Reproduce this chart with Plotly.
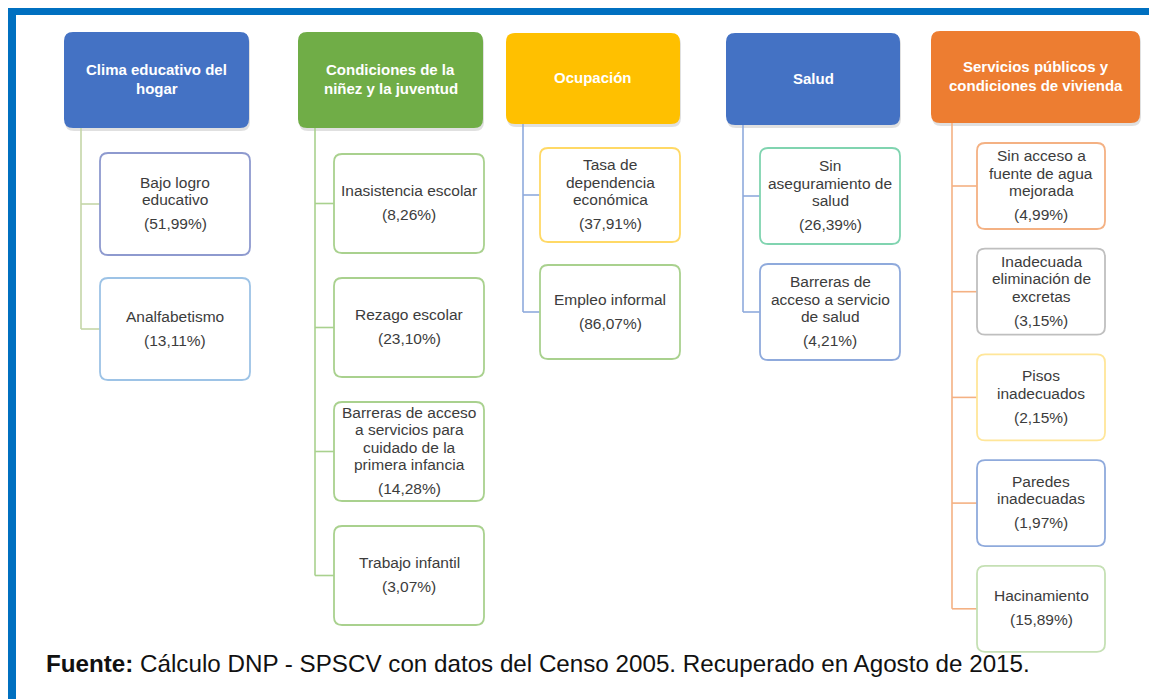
import plotly.graph_objects as go

# ---------------- data ----------------
dimensiones = [
    "Clima educativo del\nhogar",
    "Condiciones de la\nniñez y la juventud",
    "Ocupación",
    "Salud",
    "Servicios públicos y\ncondiciones de vivienda",
]
clima_ind = ["Bajo logro\neducativo", "Analfabetismo"]
clima_val = [51.99, 13.11]
ninez_ind = ["Inasistencia escolar", "Rezago escolar",
             "Barreras de acceso\na servicios para\ncuidado de la\nprimera infancia",
             "Trabajo infantil"]
ninez_val = [8.26, 23.10, 14.28, 3.07]
ocup_ind = ["Tasa de\ndependencia\neconómica", "Empleo informal"]
ocup_val = [37.91, 86.07]
salud_ind = ["Sin\naseguramiento de\nsalud", "Barreras de\nacceso a servicio\nde salud"]
salud_val = [26.39, 4.21]
serv_ind = ["Sin acceso a\nfuente de agua\nmejorada", "Inadecuada\neliminación de\nexcretas",
            "Pisos\ninadecuados", "Paredes\ninadecuadas", "Hacinamiento"]
serv_val = [4.99, 3.15, 2.15, 1.97, 15.89]
fuente = "<b>Fuente:</b> Cálculo DNP - SPSCV con datos del Censo 2005. Recuperado en Agosto de 2015."

indicadores = [clima_ind, ninez_ind, ocup_ind, salud_ind, serv_ind]
valores = [clima_val, ninez_val, ocup_val, salud_val, serv_val]

# ---------------- layout / style ----------------
W, H = 1157, 699
PAGE_MARGIN = 8  # default body margin of the html page
FONT = "Liberation Sans, Arial, sans-serif"
header_fill = ["#4472C4", "#70AD47", "#FFC000", "#4472C4", "#ED7D31"]
header_box = [(64, 32, 249, 128), (298, 32, 483, 128), (506, 33, 680, 124),
              (726, 33, 900, 125), (931, 31, 1140, 123)]
child_x = [(100, 250), (334, 484), (540, 680), (760, 900), (977, 1105)]
conn_x = [81, 315, 523, 743, 952]
child_top = [153, 154, 148, 148, 143]
child_step = [125, 124, 117, 116, 105.7]
child_h = [102, 99, 94, 96, 86]
conn_color = ["#C5D6A8", "#A9D18E", "#8FAADC", "#8FAADC", "#F4B183"]
child_border = [
    ["#8E9ACF", "#9DC3E6"],
    ["#A9D18E", "#A9D18E", "#A9D18E", "#A9D18E"],
    ["#FFD966", "#A9D18E"],
    ["#80D4B0", "#8FAADC"],
    ["#F4B183", "#BFBFBF", "#FFE699", "#8FAADC", "#C5E0B4"],
]
TEXT = "#3C3C3C"


def rrect(x0, y0, x1, y1, r):
    return (f"M{x0 + r},{y0} L{x1 - r},{y0} Q{x1},{y0} {x1},{y0 + r} "
            f"L{x1},{y1 - r} Q{x1},{y1} {x1 - r},{y1} L{x0 + r},{y1} "
            f"Q{x0},{y1} {x0},{y1 - r} L{x0},{y0 + r} Q{x0},{y0} {x0 + r},{y0} Z")


def fmt(v):
    return "(" + f"{v:.2f}".replace(".", ",") + "%)"


shapes = []
annotations = []

# blue frame
shapes.append(dict(type="rect", xref="x", yref="y", x0=8, x1=W + 5, y0=7, y1=15,
                   fillcolor="#0070C0", line=dict(width=0), layer="below"))
shapes.append(dict(type="rect", xref="x", yref="y", x0=8, x1=16, y0=7, y1=H + 5,
                   fillcolor="#0070C0", line=dict(width=0), layer="below"))

for i, dim in enumerate(dimensiones):
    x0, y0, x1, y1 = header_box[i]
    # shadow
    shapes.append(dict(type="path", xref="x", yref="y", path=rrect(x0 + 1, y0 + 2, x1 + 1, y1 + 3, 9),
                       fillcolor="rgba(0,0,0,0.12)", line=dict(width=0), layer="below"))
    shapes.append(dict(type="path", xref="x", yref="y", path=rrect(x0, y0, x1, y1, 9),
                       fillcolor=header_fill[i], line=dict(width=0)))
    lines = dim.split("\n")
    cy = (y0 + y1) / 2 - 1
    cx = (x0 + x1) / 2
    for k, ln in enumerate(lines):
        yy = cy + (k - (len(lines) - 1) / 2) * 19.5
        annotations.append(dict(x=cx, y=yy, xref="x", yref="y", text=f"<b>{ln}</b>",
                                showarrow=False, xanchor="center", yanchor="middle",
                                font=dict(family=FONT, size=15, color="white")))

    cxa, cxb = child_x[i]
    n = len(indicadores[i])
    centers = []
    for j in range(n):
        by0 = child_top[i] + j * child_step[i]
        by1 = by0 + child_h[i]
        bc = (by0 + by1) / 2
        centers.append(bc)
        shapes.append(dict(type="path", xref="x", yref="y", path=rrect(cxa, by0, cxb, by1, 8),
                           fillcolor="white", line=dict(color=child_border[i][j], width=1.8)))
        lab = indicadores[i][j].split("\n")
        m = len(lab)
        total = (m - 1) * 17.5 + 24
        first = bc - total / 2 - 1
        for k, ln in enumerate(lab):
            annotations.append(dict(x=(cxa + cxb) / 2, y=first + k * 17.5, xref="x", yref="y",
                                    text=ln, showarrow=False, xanchor="center", yanchor="middle",
                                    font=dict(family=FONT, size=15.5, color=TEXT)))
        annotations.append(dict(x=(cxa + cxb) / 2, y=first + (m - 1) * 17.5 + 24, xref="x", yref="y",
                                text=fmt(valores[i][j]), showarrow=False, xanchor="center",
                                yanchor="middle", font=dict(family=FONT, size=15.5, color=TEXT)))
        # branch
        shapes.append(dict(type="line", xref="x", yref="y", x0=conn_x[i], x1=cxa, y0=bc, y1=bc,
                           line=dict(color=conn_color[i], width=1.6), layer="below"))
    # trunk
    shapes.append(dict(type="line", xref="x", yref="y", x0=conn_x[i], x1=conn_x[i],
                       y0=header_box[i][3], y1=centers[-1],
                       line=dict(color=conn_color[i], width=1.6), layer="below"))

annotations.append(dict(x=44, y=663, xref="x", yref="y", text=fuente, showarrow=False,
                        xanchor="left", yanchor="middle",
                        font=dict(family=FONT, size=24.2, color="#111111")))

fig = go.Figure()
fig.update_layout(
    width=W - PAGE_MARGIN, height=H - PAGE_MARGIN,
    margin=dict(l=0, r=0, t=0, b=0),
    paper_bgcolor="white", plot_bgcolor="white",
    xaxis=dict(range=[PAGE_MARGIN, W], visible=False, fixedrange=True),
    yaxis=dict(range=[H, PAGE_MARGIN], visible=False, fixedrange=True),
    shapes=shapes, annotations=annotations, showlegend=False,
)
fig.write_html("out.html", config={"displayModeBar": False})
